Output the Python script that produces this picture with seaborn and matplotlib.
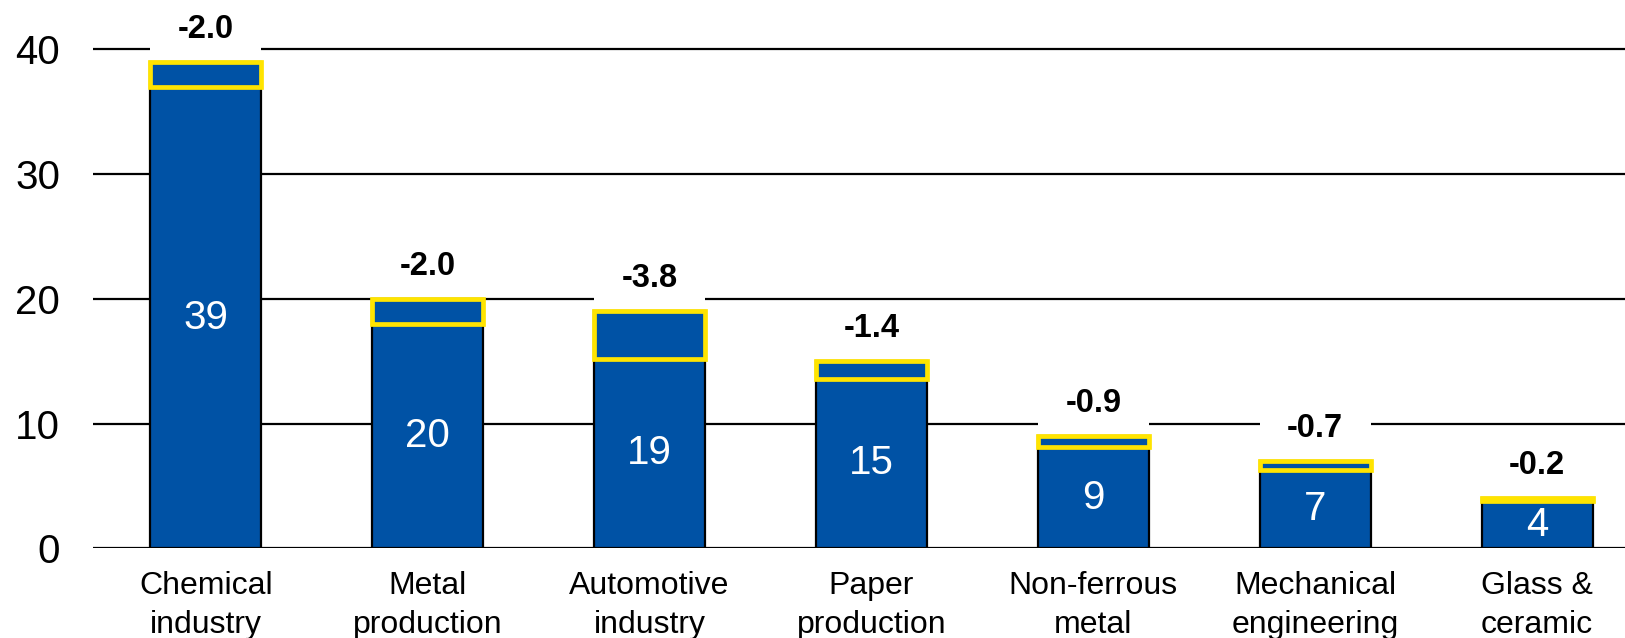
import matplotlib
matplotlib.use("Agg")
import matplotlib.pyplot as plt
from matplotlib.patches import Rectangle
import seaborn as sns
import pandas as pd

sectors = ["Chemical\nindustry", "Metal\nproduction", "Automotive\nindustry",
           "Paper\nproduction", "Non-ferrous\nmetal", "Mechanical\nengineering",
           "Glass &\nceramic"]
values = [39, 20, 19, 15, 9, 7, 4]
changes = [-2.0, -2.0, -3.8, -1.4, -0.9, -0.7, -0.2]
yticks = [0, 10, 20, 30, 40]

BLUE = "#0052A5"
YELLOW = "#FFE400"

sns.set_theme(style="white")
plt.rcParams["font.family"] = ["Liberation Sans", "DejaVu Sans"]

df = pd.DataFrame({"sector": sectors, "value": values, "change": changes})

W, H = 1625, 638
fig = plt.figure(figsize=(W / 100, H / 100), dpi=100)
ax = fig.add_axes([93.3 / W, 89.7 / H, (W - 93.3) / W, 548.3 / H])

sns.barplot(data=df, x="sector", y="value", color=BLUE, saturation=1,
            width=0.5, edgecolor="black", linewidth=1.6, ax=ax, zorder=2)

# declining part at the top of each bar, outlined in yellow
for i, (v, c) in enumerate(zip(values, changes)):
    ax.bar(i, -c, bottom=v + c, width=0.5, color=BLUE, edgecolor=YELLOW,
           linewidth=3.4, zorder=3)
    # white panel behind the change label (hides the gridlines)
    ax.add_patch(Rectangle((i - 0.25, v + 0.35), 0.5, 3.3, facecolor="white",
                           edgecolor="none", zorder=1.5, clip_on=False))
    ax.text(i, v + 2.6, f"{c:.1f}", ha="center", va="center",
            fontsize=23.5, fontweight="bold", color="black", zorder=4,
            clip_on=False)
    ax.text(i, (v + c) / 2, f"{v}", ha="center", va="center",
            fontsize=29, color="white", zorder=4)

ax.set_xlim(-0.5065, 6.396)
ax.set_ylim(0, 43.95)
ax.set_yticks(yticks)
ax.set_axisbelow(True)
ax.yaxis.grid(True, color="black", linewidth=1.6, zorder=0.5)
ax.xaxis.grid(False)
for s in ax.spines.values():
    s.set_visible(False)
ax.tick_params(axis="y", length=0, pad=24, labelsize=29, colors="black")
ax.tick_params(axis="x", length=0, pad=16, labelsize=23, colors="black")
for lbl in ax.get_xticklabels():
    lbl.set_linespacing(1.4)
ax.set_xlabel("")
ax.set_ylabel("")

fig.savefig("out.png", dpi=100, facecolor="white")
